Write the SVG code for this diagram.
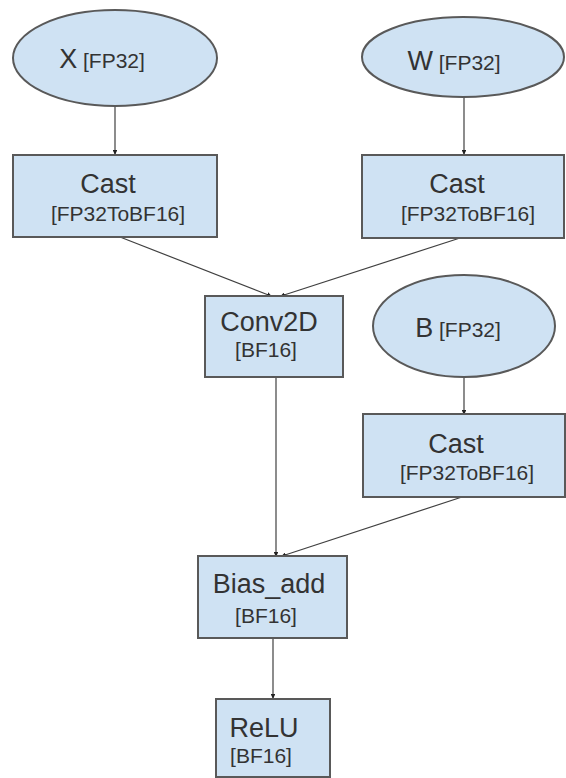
<svg xmlns="http://www.w3.org/2000/svg" width="566" height="778" viewBox="0 0 566 778">
<style>
.n{fill:#cfe2f3;stroke:#595959;stroke-width:2}
.c{fill:none;stroke:#404040;stroke-width:1.2;marker-end:url(#a)}
.t{font-family:"Liberation Sans",Arial,sans-serif;fill:#333;text-anchor:middle}
.b{font-size:27px}
.s{font-size:21px}
</style>
<defs>
<marker id="a" viewBox="0 0 6 6" refX="5" refY="3" markerWidth="4" markerHeight="4" orient="auto" markerUnits="strokeWidth">
<path d="M0,0 L6,3 L0,6 z" fill="#222"/>
</marker>
</defs>
<rect width="566" height="778" fill="#fff"/>
<g id="connectors">
<line class="c" x1="115" y1="107" x2="115" y2="154"/>
<line class="c" x1="464" y1="98" x2="464" y2="154"/>
<line class="c" x1="120" y1="237" x2="271" y2="296"/>
<line class="c" x1="460" y1="238" x2="281" y2="296"/>
<line class="c" x1="464" y1="377" x2="464" y2="414"/>
<line class="c" x1="276" y1="377" x2="276" y2="556"/>
<line class="c" x1="462" y1="497" x2="282" y2="556"/>
<line class="c" x1="273" y1="638" x2="273" y2="698"/>
</g>
<g id="X">
<ellipse class="n" cx="115" cy="58" rx="102" ry="48"/>
<text class="t" x="102" y="68"><tspan class="b">X</tspan><tspan class="s"> [FP32]</tspan></text>
</g>
<g id="W">
<ellipse class="n" cx="463" cy="57" rx="101" ry="40"/>
<text class="t" x="454" y="70"><tspan class="b">W</tspan><tspan class="s"> [FP32]</tspan></text>
</g>
<g id="CastX">
<rect class="n" x="13" y="155" width="204" height="82"/>
<text class="t b" x="108" y="193">Cast</text>
<text class="t s" x="118" y="221">[FP32ToBF16]</text>
</g>
<g id="CastW">
<rect class="n" x="362" y="155" width="202" height="83"/>
<text class="t b" x="457" y="193">Cast</text>
<text class="t s" x="468" y="221">[FP32ToBF16]</text>
</g>
<g id="Conv2D">
<rect class="n" x="205" y="296" width="138" height="81"/>
<text class="t b" x="269" y="331">Conv2D</text>
<text class="t s" x="266" y="357">[BF16]</text>
</g>
<g id="B">
<ellipse class="n" cx="464" cy="326" rx="91" ry="51"/>
<text class="t" x="458" y="337"><tspan class="b">B</tspan><tspan class="s"> [FP32]</tspan></text>
</g>
<g id="CastB">
<rect class="n" x="363" y="414" width="202" height="83"/>
<text class="t b" x="456" y="453">Cast</text>
<text class="t s" x="467" y="480">[FP32ToBF16]</text>
</g>
<g id="Bias_add">
<rect class="n" x="198" y="556" width="149" height="82"/>
<text class="t b" x="269" y="593">Bias_add</text>
<text class="t s" x="266" y="623">[BF16]</text>
</g>
<g id="ReLU">
<rect class="n" x="216" y="699" width="114" height="78"/>
<text class="t b" x="264" y="737">ReLU</text>
<text class="t s" x="261" y="763">[BF16]</text>
</g>
</svg>
